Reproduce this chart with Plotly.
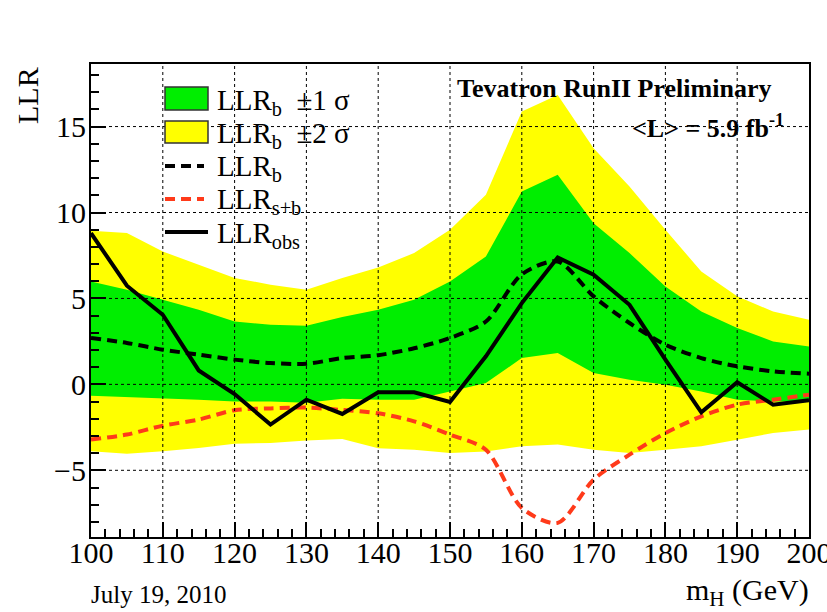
import plotly.graph_objects as go

# Higgs mass points (GeV)
mass = [100, 105, 110, 115, 120, 125, 130, 135, 140, 145, 150,
        155, 160, 165, 170, 175, 180, 185, 190, 195, 200]

# Observed log-likelihood ratio
llr_obs = [8.8, 5.74, 4.05, 0.81, -0.56, -2.34, -0.89, -1.72, -0.46, -0.46, -1.02,
           1.63, 4.73, 7.38, 6.38, 4.63, 1.44, -1.63, 0.12, -1.18, -0.93]

# Expected LLR, background-only hypothesis
llr_b = [2.7, 2.41, 2.02, 1.73, 1.44, 1.24, 1.2, 1.53, 1.7, 2.1, 2.7,
         3.66, 6.4, 7.15, 5.12, 3.57, 2.31, 1.53, 1.05, 0.76, 0.62]

# Expected LLR, signal+background hypothesis
llr_sb = [-3.21, -2.92, -2.4, -2.05, -1.5, -1.4, -1.35, -1.49, -1.68, -2.15, -2.92,
          -3.8, -7.19, -8.06, -5.54, -4.09, -2.83, -1.86, -1.18, -0.89, -0.6]

# +/-1 sigma band of LLR_b
b_1s_hi = [5.99, 5.5, 4.92, 4.34, 3.66, 3.47, 3.41, 3.92, 4.34, 4.92, 5.99,
           7.44, 11.22, 12.19, 9.38, 7.64, 5.7, 4.24, 3.28, 2.5, 2.21]
b_1s_lo = [-0.66, -0.73, -0.83, -0.89, -0.99, -1.0, -1.07, -0.83, -0.89, -0.89, -0.41,
           0.08, 1.53, 1.82, 0.66, 0.27, -0.02, -0.41, -0.89, -0.99, -0.99]

# +/-2 sigma band of LLR_b
b_2s_hi = [8.94, 8.8, 7.73, 6.96, 6.19, 5.8, 5.5, 6.19, 6.8, 7.64, 8.99,
           11.03, 15.87, 16.84, 13.74, 11.51, 8.99, 6.57, 5.12, 4.24, 3.76]
b_2s_lo = [-3.89, -4.03, -3.89, -3.7, -3.45, -3.41, -3.27, -3.18, -3.72, -3.8, -3.99,
           -3.9, -3.6, -3.5, -3.8, -4.0, -3.8, -3.6, -3.22, -2.83, -2.63]

x_major = [110, 120, 130, 140, 150, 160, 170, 180, 190]
y_major = [-5, 0, 5, 10, 15]

GREEN = "#00ee00"
YELLOW = "#ffff00"
RED = "#ff3a1a"
FONT = "Liberation Serif, Times New Roman, serif"

W, H = 827, 612
ML, MR, MT, MB = 91, 18, 64, 75
PW, PH = W - ML - MR, H - MT - MB


def px(x):
    return (x - ML) / PW


def py(y):
    return (H - MB - y) / PH


fig = go.Figure()

# 2 sigma band
fig.add_trace(go.Scatter(x=mass, y=b_2s_hi, mode="lines", line=dict(width=0),
                         hoverinfo="skip", showlegend=False))
fig.add_trace(go.Scatter(x=mass, y=b_2s_lo, mode="lines", line=dict(width=0),
                         fill="tonexty", fillcolor=YELLOW, showlegend=False))
# 1 sigma band
fig.add_trace(go.Scatter(x=mass, y=b_1s_hi, mode="lines", line=dict(width=0),
                         hoverinfo="skip", showlegend=False))
fig.add_trace(go.Scatter(x=mass, y=b_1s_lo, mode="lines", line=dict(width=0),
                         fill="tonexty", fillcolor=GREEN, showlegend=False))

# Expected curves
fig.add_trace(go.Scatter(x=mass, y=llr_b, mode="lines", showlegend=False,
                         line=dict(color="black", width=4, dash="10px,6px",
                                   shape="spline", smoothing=0.8)))
fig.add_trace(go.Scatter(x=mass, y=llr_sb, mode="lines", showlegend=False,
                         line=dict(color=RED, width=4, dash="10px,6px",
                                   shape="spline", smoothing=0.8)))
# Observed
fig.add_trace(go.Scatter(x=mass, y=llr_obs, mode="lines", showlegend=False,
                         line=dict(color="black", width=4)))

shapes = []
# dotted grid drawn over the bands
for xv in x_major:
    shapes.append(dict(type="line", xref="x", yref="paper", x0=xv, x1=xv, y0=0, y1=1,
                       line=dict(color="black", width=1, dash="dot"), layer="above"))
for yv in y_major:
    shapes.append(dict(type="line", xref="paper", yref="y", x0=0, x1=1, y0=yv, y1=yv,
                       line=dict(color="black", width=1, dash="dot"), layer="above"))

# legend key symbols
shapes.append(dict(type="rect", xref="paper", yref="paper",
                   x0=px(165), x1=px(208), y0=py(110), y1=py(87),
                   fillcolor=GREEN, line=dict(color="#333333", width=1.5), layer="above"))
shapes.append(dict(type="rect", xref="paper", yref="paper",
                   x0=px(165), x1=px(208), y0=py(143), y1=py(121),
                   fillcolor=YELLOW, line=dict(color="#333333", width=1.5), layer="above"))
shapes.append(dict(type="line", xref="paper", yref="paper",
                   x0=px(165), x1=px(204), y0=py(166), y1=py(166),
                   line=dict(color="black", width=4, dash="10px,6px"), layer="above"))
shapes.append(dict(type="line", xref="paper", yref="paper",
                   x0=px(165), x1=px(204), y0=py(199), y1=py(199),
                   line=dict(color=RED, width=4, dash="10px,6px"), layer="above"))
shapes.append(dict(type="line", xref="paper", yref="paper",
                   x0=px(165), x1=px(208), y0=py(232), y1=py(232),
                   line=dict(color="black", width=4), layer="above"))

leg_font = dict(family=FONT, size=29, color="black")
leg_items = [
    ("LLR<sub>b</sub>  ±1 σ", 102),
    ("LLR<sub>b</sub>  ±2 σ", 135),
    ("LLR<sub>b</sub>", 168),
    ("LLR<sub>s+b</sub>", 201),
    ("LLR<sub>obs</sub>", 235),
]
annotations = []
for txt, yy in leg_items:
    annotations.append(dict(text=txt, xref="paper", yref="paper", x=px(215), y=py(yy),
                            xanchor="left", yanchor="middle", showarrow=False, font=leg_font))

annotations += [
    dict(text="<b>Tevatron RunII Preliminary</b>", xref="paper", yref="paper",
         x=px(773), y=py(88), xanchor="right", yanchor="middle", showarrow=False,
         font=dict(family=FONT, size=26, color="black")),
    dict(text="<b>&lt;L&gt; = 5.9 fb<sup>-1</sup></b>", xref="paper", yref="paper",
         x=px(786), y=py(126), xanchor="right", yanchor="middle", showarrow=False,
         font=dict(family=FONT, size=26, color="black")),
    dict(text="LLR", xref="paper", yref="paper", x=px(27), y=py(96),
         xanchor="center", yanchor="middle", textangle=-90, showarrow=False,
         font=dict(family=FONT, size=30, color="black")),
    dict(text="m<sub>H</sub> (GeV)", xref="paper", yref="paper", x=px(811), y=py(592),
         xanchor="right", yanchor="middle", showarrow=False,
         font=dict(family=FONT, size=30, color="black")),
    dict(text="July 19, 2010", xref="paper", yref="paper", x=px(89), y=py(594),
         xanchor="left", yanchor="middle", showarrow=False,
         font=dict(family=FONT, size=25, color="black")),
]

fig.update_layout(
    width=W, height=H,
    margin=dict(l=ML, r=MR, t=MT, b=MB, pad=0, autoexpand=False),
    paper_bgcolor="white", plot_bgcolor="white",
    shapes=shapes, annotations=annotations,
    font=dict(family=FONT, size=30, color="black"),
)
fig.update_xaxes(
    range=[100, 200], tickmode="array", tickvals=list(range(100, 201, 10)),
    ticks="inside", ticklen=15, tickwidth=1.5, tickcolor="black",
    minor=dict(ticks="inside", ticklen=8, tickwidth=1.5, tickcolor="black", dtick=2,
               tick0=100, showgrid=False),
    showgrid=False, zeroline=False, showline=True, mirror=True,
    linecolor="black", linewidth=2, layer="above traces", automargin=False,
    ticklabeloverflow="allow", ticklabelstandoff=-12,
    tickfont=dict(family=FONT, size=30, color="black"),
)
fig.update_yaxes(
    range=[-8.88, 18.64], tickmode="array", tickvals=[-5, 0, 5, 10, 15],
    ticks="inside", ticklen=15, tickwidth=1.5, tickcolor="black",
    minor=dict(ticks="inside", ticklen=8, tickwidth=1.5, tickcolor="black", dtick=1,
               tick0=0, showgrid=False),
    showgrid=False, zeroline=False, showline=True, mirror=True,
    linecolor="black", linewidth=2, layer="above traces", automargin=False,
    ticklabelstandoff=-3,
    tickfont=dict(family=FONT, size=30, color="black"),
)

fig.write_html("out.html")
